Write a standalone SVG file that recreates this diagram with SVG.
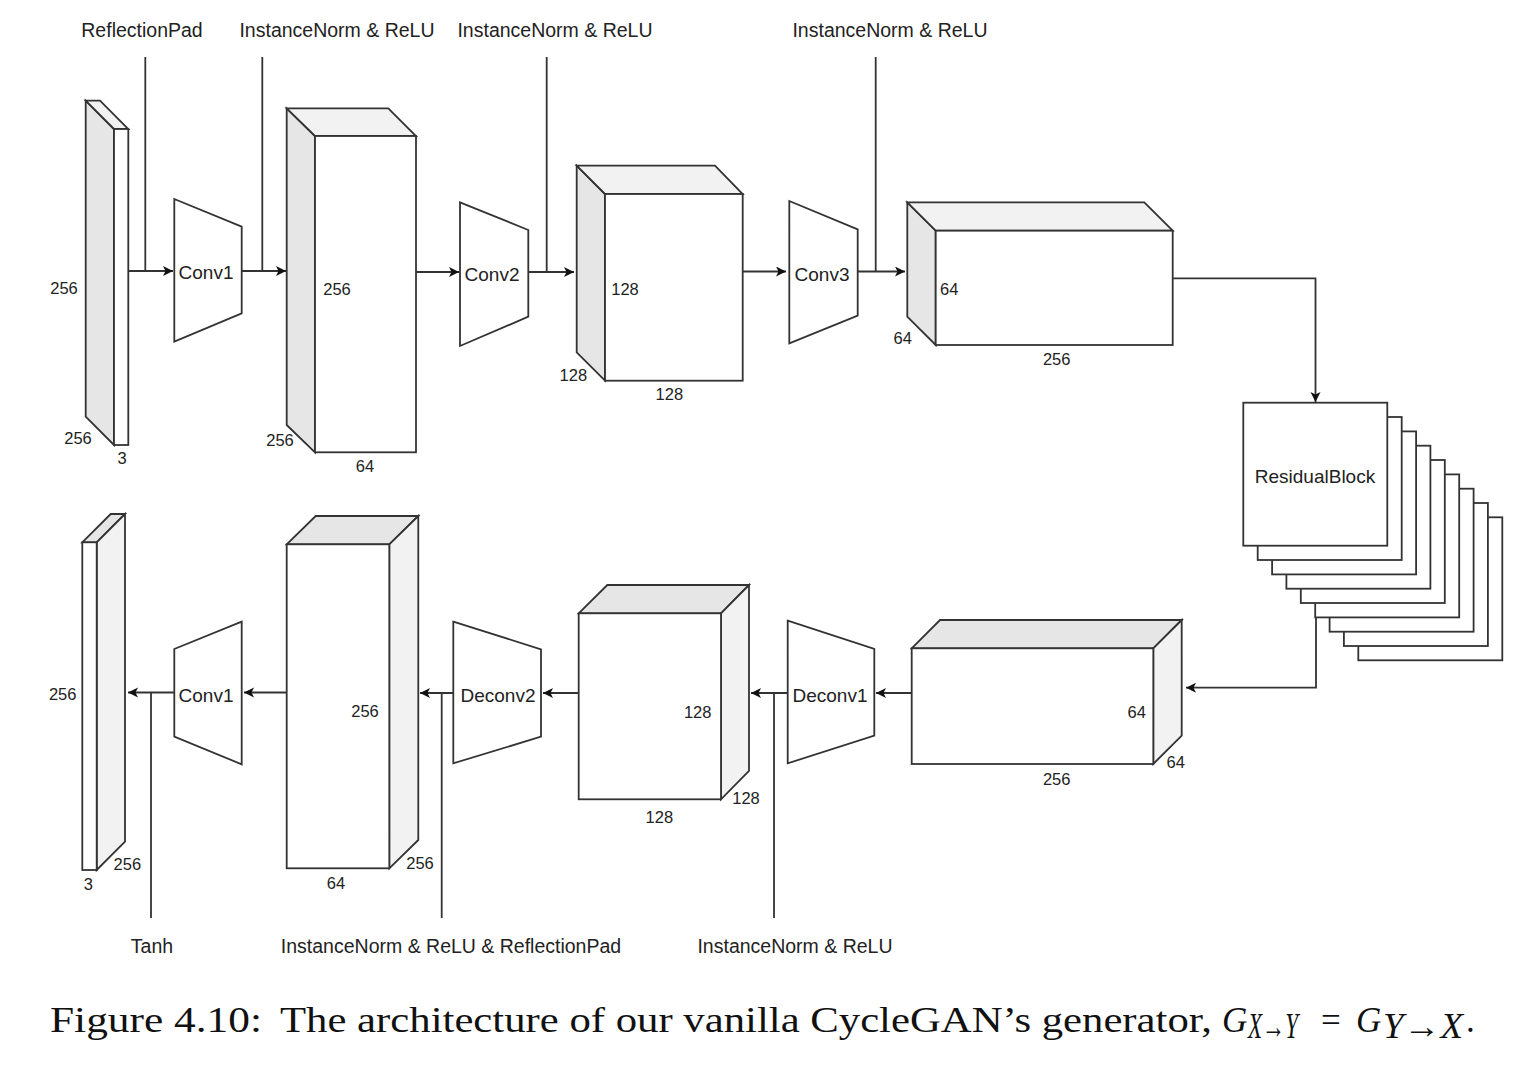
<svg xmlns="http://www.w3.org/2000/svg" width="1528" height="1066" viewBox="0 0 1528 1066">
<defs>
<marker id="ah" markerWidth="12" markerHeight="12" refX="10" refY="5" orient="auto" markerUnits="userSpaceOnUse">
<path d="M0,0 L10,5 L0,10 L2.5,5 Z" fill="#111"/>
</marker>
<style>
.s{stroke:#333;stroke-width:1.8;stroke-linejoin:miter}
.w{fill:#fff}
.g1{fill:#e6e6e6}
.g2{fill:#f2f2f2}
.c{fill:none;stroke:#333;stroke-width:1.8}
.a{marker-end:url(#ah)}
.d{font-family:"Liberation Sans",Arial,sans-serif;font-size:16.5px;fill:#222;text-anchor:middle}
.l{font-family:"Liberation Sans",Arial,sans-serif;font-size:19px;fill:#222;text-anchor:middle}
.t{font-family:"Liberation Sans",Arial,sans-serif;font-size:19.5px;fill:#222;text-anchor:middle}
.cap{font-family:"Liberation Serif","Times New Roman",serif;font-size:35px;fill:#111}
</style>
</defs>
<rect width="1528" height="1066" fill="#fff"/>

<!-- connectors -->
<g id="connectors">
<path class="c a" d="M128.3,271 H173"/>
<path class="c" d="M145.3,57 V271"/>
<path class="c a" d="M241.7,271 H286"/>
<path class="c" d="M262.3,57 V271"/>
<path class="c a" d="M416,272 H459"/>
<path class="c a" d="M528.3,272 H574"/>
<path class="c" d="M546.7,57 V272"/>
<path class="c a" d="M742.7,271.5 H786"/>
<path class="c a" d="M857.7,271.5 H905"/>
<path class="c" d="M875.7,57 V271.5"/>
<path class="c a" d="M1172.7,278.3 H1315.5 V402"/>
<path class="c a" d="M1316,600 V687.7 H1186"/>
<path class="c a" d="M911.7,693 H876"/>
<path class="c a" d="M787.7,693 H751"/>
<path class="c" d="M774,693 V918"/>
<path class="c a" d="M578.7,693 H543"/>
<path class="c a" d="M453.3,693 H420"/>
<path class="c" d="M441.7,693 V918"/>
<path class="c a" d="M286.7,692.5 H244"/>
<path class="c a" d="M174.3,692.5 H128"/>
<path class="c" d="M151,692.5 V918"/>
</g>

<!-- encoder -->
<g id="input">
<polygon class="s g1" points="85.7,100.7 114,129 114,445 85.7,416.7"/>
<polygon class="s g2" points="85.7,100.7 100,100.7 128.3,129 114,129"/>
<rect class="s w" x="114" y="129" width="14.3" height="316"/>
<text class="d" x="64" y="294">256</text>
<text class="d" x="78" y="444">256</text>
<text class="d" x="122" y="464">3</text>
</g>
<g id="conv1">
<polygon class="s w" points="174.3,199 241.7,226.7 241.7,313.3 174.3,341.7"/>
<text class="l" x="206" y="279">Conv1</text>
</g>
<g id="feat1">
<polygon class="s g1" points="286.7,108.3 315,136 315,452.3 286.7,425"/>
<polygon class="s g2" points="286.7,108.3 388.3,108.3 416,136 315,136"/>
<rect class="s w" x="315" y="136" width="101" height="316.3"/>
<text class="d" x="337" y="295">256</text>
<text class="d" x="280" y="446">256</text>
<text class="d" x="365" y="471.7">64</text>
</g>
<g id="conv2">
<polygon class="s w" points="460,202.3 528.3,230 528.3,316.7 460,346"/>
<text class="l" x="492" y="281">Conv2</text>
</g>
<g id="feat2">
<polygon class="s g1" points="576.7,165.7 605,194 605,380.7 576.7,352.4"/>
<polygon class="s g2" points="576.7,165.7 715,165.7 742.7,194 605,194"/>
<rect class="s w" x="605" y="194" width="137.7" height="186.7"/>
<text class="d" x="625" y="295.3">128</text>
<text class="d" x="573.3" y="381">128</text>
<text class="d" x="669.3" y="400.3">128</text>
</g>
<g id="conv3">
<polygon class="s w" points="789.3,201 857.7,229.3 857.7,315.7 789.3,343.3"/>
<text class="l" x="822" y="281">Conv3</text>
</g>
<g id="feat3">
<polygon class="s g1" points="907.3,202.3 935.7,230.7 935.7,345 907.3,316.7"/>
<polygon class="s g2" points="907.3,202.3 1144.3,202.3 1172.7,230.7 935.7,230.7"/>
<rect class="s w" x="935.7" y="230.7" width="237" height="114.3"/>
<text class="d" x="949.3" y="295.3">64</text>
<text class="d" x="902.7" y="343.7">64</text>
<text class="d" x="1056.7" y="365.3">256</text>
</g>

<!-- residual blocks -->
<g id="residual">
<rect class="s w" x="1358.3" y="517.3" width="144" height="143"/>
<rect class="s w" x="1343.9" y="503" width="144" height="143"/>
<rect class="s w" x="1329.6" y="488.7" width="144" height="143"/>
<rect class="s w" x="1315.2" y="474.4" width="144" height="143"/>
<rect class="s w" x="1300.8" y="460" width="144" height="143"/>
<rect class="s w" x="1286.4" y="445.7" width="144" height="143"/>
<rect class="s w" x="1272.1" y="431.4" width="144" height="143"/>
<rect class="s w" x="1257.7" y="417" width="144" height="143"/>
<rect class="s w" x="1243.3" y="402.7" width="144" height="143"/>
<text class="l" x="1315" y="483">ResidualBlock</text>
</g>

<!-- decoder -->
<g id="feat4">
<polygon class="s g1" points="911.7,648.3 940,620 1181.7,620 1153.3,648.3"/>
<polygon class="s g2" points="1153.3,648.3 1181.7,620 1181.7,735.7 1153.3,764"/>
<rect class="s w" x="911.7" y="648.3" width="241.6" height="115.7"/>
<text class="d" x="1136.7" y="718.3">64</text>
<text class="d" x="1175.7" y="768.3">64</text>
<text class="d" x="1056.7" y="785">256</text>
</g>
<g id="deconv1">
<polygon class="s w" points="787.7,620.7 874.3,649 874.3,735.7 787.7,763.3"/>
<text class="l" x="830" y="702">Deconv1</text>
</g>
<g id="feat5">
<polygon class="s g1" points="578.7,613.3 607.3,585 749,585 721,613.3"/>
<polygon class="s g2" points="721,613.3 749,585 749,771 721,799.3"/>
<rect class="s w" x="578.7" y="613.3" width="142.3" height="186"/>
<text class="d" x="697.7" y="717.7">128</text>
<text class="d" x="746" y="803.7">128</text>
<text class="d" x="659.3" y="822.7">128</text>
</g>
<g id="deconv2">
<polygon class="s w" points="453.3,621.7 541,649.3 541,736.7 453.3,763.3"/>
<text class="l" x="498" y="702">Deconv2</text>
</g>
<g id="feat6">
<polygon class="s g1" points="286.7,544.3 315.7,516 418.3,516 389.3,544.3"/>
<polygon class="s g2" points="389.3,544.3 418.3,516 418.3,840 389.3,868.3"/>
<rect class="s w" x="286.7" y="544.3" width="102.6" height="324"/>
<text class="d" x="365" y="716.7">256</text>
<text class="d" x="420" y="868.7">256</text>
<text class="d" x="336" y="889.3">64</text>
</g>
<g id="conv1b">
<polygon class="s w" points="174.3,649 241.7,621.7 241.7,764.3 174.3,736.7"/>
<text class="l" x="206" y="702">Conv1</text>
</g>
<g id="output">
<polygon class="s g1" points="82.3,542.3 110.7,514 125,514 96.7,542.3"/>
<polygon class="s g2" points="96.7,542.3 125,514 125,841.7 96.7,870"/>
<rect class="s w" x="82.3" y="542.3" width="14.4" height="327.7"/>
<text class="d" x="62.7" y="700.3">256</text>
<text class="d" x="127.3" y="870.3">256</text>
<text class="d" x="88.3" y="890">3</text>
</g>

<!-- operation labels -->
<g id="labels">
<text class="t" x="142" y="37">ReflectionPad</text>
<text class="t" x="337" y="37">InstanceNorm &amp; ReLU</text>
<text class="t" x="555" y="37">InstanceNorm &amp; ReLU</text>
<text class="t" x="890" y="37">InstanceNorm &amp; ReLU</text>
<text class="t" x="152" y="953">Tanh</text>
<text class="t" x="451" y="953">InstanceNorm &amp; ReLU &amp; ReflectionPad</text>
<text class="t" x="795" y="953">InstanceNorm &amp; ReLU</text>
</g>

<!-- caption -->
<g id="caption">
<text class="cap" x="50" y="1032" textLength="212" lengthAdjust="spacingAndGlyphs">Figure 4.10:</text>
<text class="cap" x="280" y="1032" textLength="932" lengthAdjust="spacingAndGlyphs">The architecture of our vanilla CycleGAN’s generator,</text>
<text class="cap" x="1222" y="1032" font-style="italic">G</text>
<text class="cap" x="1248" y="1038" font-size="23" font-style="italic" textLength="50" lengthAdjust="spacingAndGlyphs">X→Y</text>
<text class="cap" x="1321" y="1032">=</text>
<text class="cap" x="1356" y="1032" font-style="italic">G</text>
<text class="cap" x="1383" y="1038" font-size="23" font-style="italic" textLength="80" lengthAdjust="spacingAndGlyphs">Y→X</text>
<text class="cap" x="1466" y="1032">.</text>
</g>
</svg>
